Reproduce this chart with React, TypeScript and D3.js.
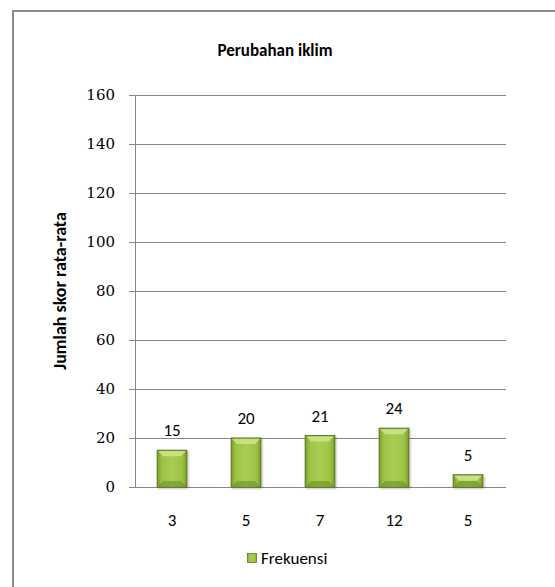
import React from "react";
import * as d3 from "d3";

const categories = ["3", "5", "7", "12", "5"];
const values = [15, 20, 21, 24, 5];
const yTicks = [0, 20, 40, 60, 80, 100, 120, 140, 160];
const seriesName = "Frekuensi";
const title = "Perubahan iklim";
const yTitle = "Jumlah skor rata-rata";

export default function App() {
  const W = 555, H = 587;
  const left = 135, right = 506, top = 95, bottom = 487;
  const x = d3.scaleBand<number>().domain(d3.range(categories.length)).range([left, right - 1]).paddingInner(0.6).paddingOuter(0.3);
  const y = d3.scaleLinear().domain([0, 160]).range([bottom, top]);
  const bw = x.bandwidth();
  const font = "Carlito, 'Open Sans', 'Liberation Sans', sans-serif";
  return (
    <svg width={W} height={H} style={{ position: "absolute", left: 0, top: 0 }}>
      <defs>
        <linearGradient id="barH" x1="0" x2="1" y1="0" y2="0">
          <stop offset="0" stopColor="#7a9c2c" />
          <stop offset="0.15" stopColor="#9cc245" />
          <stop offset="0.5" stopColor="#a8cd52" />
          <stop offset="0.85" stopColor="#9cc245" />
          <stop offset="1" stopColor="#7a9c2c" />
        </linearGradient>
        <filter id="sh" x="-20%" y="-20%" width="140%" height="140%">
          <feDropShadow dx="1" dy="1" stdDeviation="1" floodColor="#000" floodOpacity="0.3" />
        </filter>
      </defs>
      <rect x={0} y={0} width={W} height={H} fill="#fff" />
      <rect x={13} y={11} width={W} height={H} fill="#fff" stroke="#8c8c8c" strokeWidth={2} />
      <text x={275} y={50} dy="0.35em" textAnchor="middle" fontFamily={font} fontWeight="bold" fontSize={17} fill="#000">{title}</text>
      {yTicks.map((t) => (
        <g key={t}>
          <line x1={left - 6} x2={right} y1={Math.round(y(t)) + 0.5} y2={Math.round(y(t)) + 0.5} stroke="#868686" strokeWidth={1} />
          <text x={115} y={y(t)} dy="0.35em" textAnchor="end" fontFamily="'DejaVu Serif', serif" fontSize={15} fill="#000">{t}</text>
        </g>
      ))}
      <line x1={left + 0.5} x2={left + 0.5} y1={top} y2={bottom} stroke="#868686" strokeWidth={1} />
      <text transform={`translate(60,291) rotate(-90)`} dy="0.35em" textAnchor="middle" fontFamily={font} fontWeight="bold" fontSize={18} fill="#000">{yTitle}</text>
      {values.map((v, i) => {
        const x0 = x(i)!;
        const y0 = y(v);
        const h = bottom - y0;
        const b = Math.min(6, h / 2);
        return (
          <g key={i}>
            <g filter="url(#sh)">
              <rect x={x0} y={y0} width={bw} height={h} fill="url(#barH)" stroke="#5c7a1c" strokeWidth={1} />
            </g>
            <polygon points={`${x0 + 1},${y0 + 1} ${x0 + bw - 1},${y0 + 1} ${x0 + bw - b},${y0 + b} ${x0 + b},${y0 + b}`} fill="#c6e184" />
            <polygon points={`${x0 + 1},${bottom - 1} ${x0 + bw - 1},${bottom - 1} ${x0 + bw - b},${bottom - b} ${x0 + b},${bottom - b}`} fill="#6f8f27" opacity={0.6} />
            <text x={x0 + bw / 2} y={y0 - 20} dy="0.35em" textAnchor="middle" fontFamily={font} fontSize={17} fill="#000">{v}</text>
            <text x={x0 + bw / 2} y={520} dy="0.35em" textAnchor="middle" fontFamily={font} fontSize={17} fill="#000">{categories[i]}</text>
          </g>
        );
      })}
      <rect x={247.5} y={553.5} width={9} height={9} fill="url(#barH)" stroke="#5c7a1c" strokeWidth={0.8} />
      <text x={261} y={558} dy="0.35em" fontFamily={font} fontSize={17} fill="#000">{seriesName}</text>
    </svg>
  );
}
